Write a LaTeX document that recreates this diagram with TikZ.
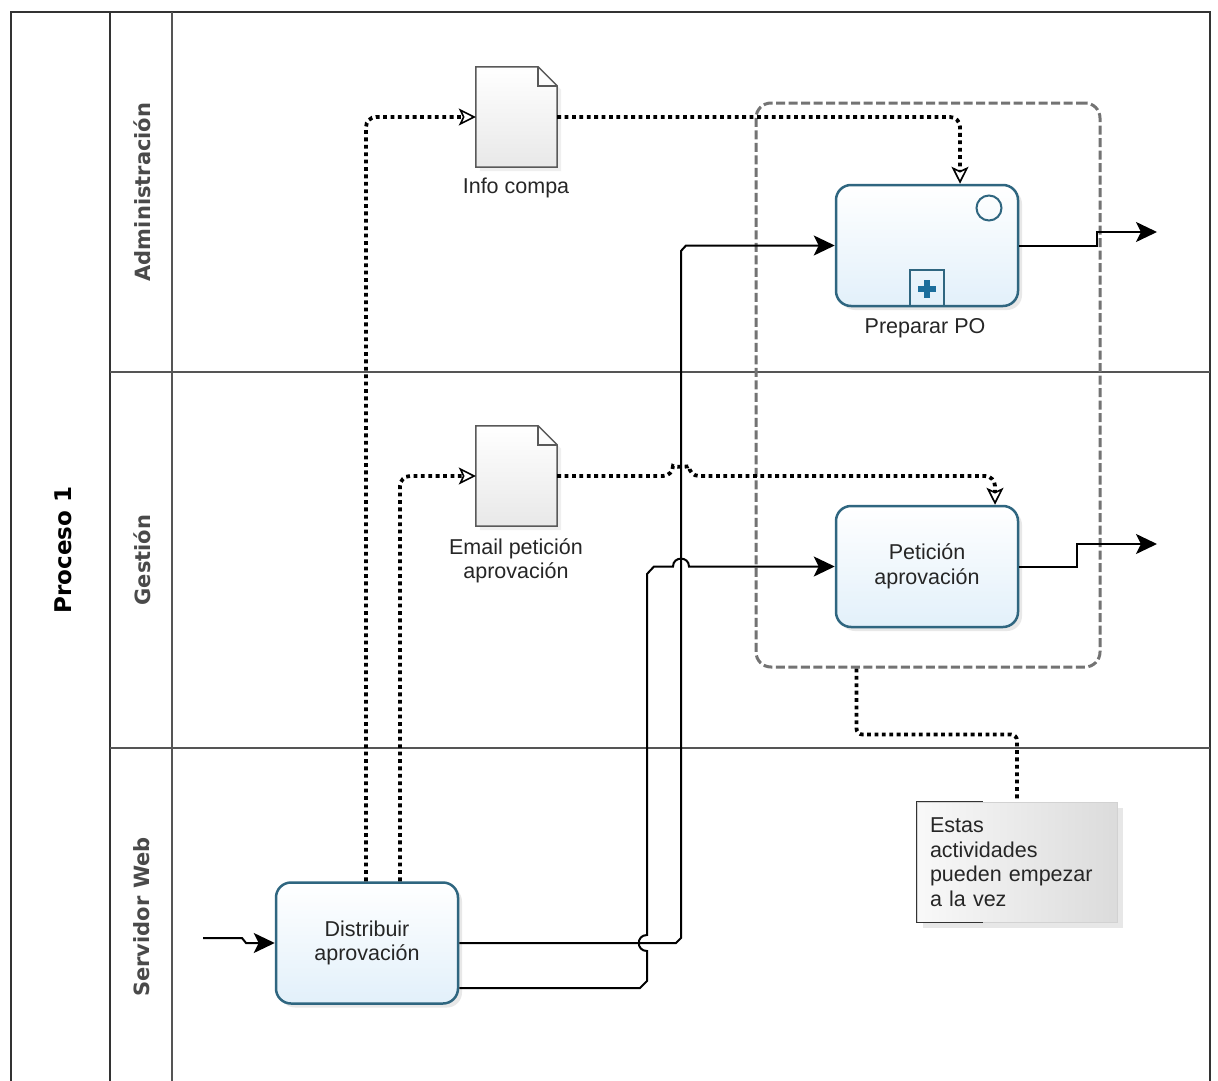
\documentclass[tikz,border=0pt]{standalone}
\usepackage{fontspec}
\setmainfont{Liberation Sans}
\newfontfamily\lanefont{DejaVu Sans}
\usetikzlibrary{arrows.meta,shadows,calc}
\definecolor{taskborder}{HTML}{2F6680}
\definecolor{taskfill}{HTML}{E2F0FA}
\definecolor{poolline}{HTML}{333333}
\definecolor{laneline}{HTML}{555555}
\definecolor{lanetext}{HTML}{4A4A4A}
\definecolor{txtcol}{HTML}{262626}
\definecolor{pluscol}{HTML}{1C6E9C}
\newcommand{\txtfont}{\fontsize{21.5}{24.5}\selectfont}
\tikzset{
  poolborder/.style={draw=poolline, line width=2.2pt},
  laneborder/.style={draw=laneline, line width=1.5pt},
  lanelabel/.style={font=\lanefont\bfseries\fontsize{21}{21}\selectfont, text=lanetext, rotate=90, inner sep=0pt},
  poollabel/.style={font=\lanefont\bfseries\fontsize{23}{23}\selectfont, text=black, rotate=90, inner sep=0pt},
  task/.style={draw=taskborder, line width=2.5pt, rounded corners=15pt, minimum width=182pt, minimum height=121pt,
    top color=white, bottom color=taskfill, align=center, font=\txtfont, text=txtcol,
    drop shadow={shadow xshift=4pt, shadow yshift=-4pt, opacity=0.25, fill=gray!70}},
  docbox/.style={draw=none, minimum width=81pt, minimum height=100pt, inner sep=0pt},
  docline/.style={draw=gray!70!black, line width=1.5pt},
  txt/.style={font=\txtfont, text=txtcol, align=center, inner sep=0pt},
  seq/.style={draw=black, line width=2pt, -{Stealth[length=21pt, width=20pt, inset=5pt]}},
  dotline/.style={draw=black, line width=3.8pt, dash pattern=on 3.8pt off 3.6pt},
  datatip/.style={-{Stealth[open, length=17pt, width=17pt, inset=4pt, line width=1.6pt]}},
  groupbox/.style={draw=black!55, line width=3pt, dash pattern=on 9pt off 3.5pt, rounded corners=15pt,
    minimum width=344pt, minimum height=564pt},
  notebox/.style={draw=gray!35, line width=1pt, left color=gray!5, right color=gray!28,
    minimum width=200pt, minimum height=120pt, text width=174pt, inner xsep=13pt, align=left,
    font=\txtfont, text=txtcol,
    drop shadow={shadow xshift=6pt, shadow yshift=-6pt, opacity=0.3, fill=gray!60}},
}
\begin{document}
\begin{tikzpicture}[x=1pt, y=-1pt]
\useasboundingbox (0,0) rectangle (1218,1081);
\fill[white] (0,0) rectangle (1218,1081);

% pool and lanes
\draw[poolborder] (11,1081) -- (11,12) -- (1210,12) -- (1210,1081);
\draw[poolborder] (110,12) -- (110,1081);
\draw[laneborder] (172,12) -- (172,1081);
\draw[laneborder] (110,372) -- (1210,372);
\draw[laneborder] (110,748) -- (1210,748);

\node[poollabel] (pool) at (63,550) {Proceso 1};
\node[lanelabel] (ladmin) at (142,192) {Administración};
\node[lanelabel] (lgest) at (142,560) {Gestión};
\node[lanelabel] (lserv) at (142,917) {Servidor Web};

% group
\node[groupbox] (grp) at (928,385) {};

% tasks
\node[task] (dist) at (367,943) {Distribuir\\aprovación};
\node[task] (prep) at (927,245.5) {};
\node[task] (pet) at (927,566.5) {Petición\\aprovación};
\node[txt] (prepl) at (925,328) {Preparar PO};
\node[circle, draw=taskborder, line width=2pt, minimum size=25pt, inner sep=0pt] (ev) at (989,208) {};
\node[draw=taskborder, line width=2pt, minimum width=34pt, minimum height=36pt, inner sep=0pt] (mk) at (927,288) {};
\draw[pluscol, line width=6pt] ($(mk.center)+(-9,1)$) -- ($(mk.center)+(9,1)$);
\draw[pluscol, line width=6pt] ($(mk.center)+(0,-8)$) -- ($(mk.center)+(0,10)$);

% data objects
\node[docbox] (info) at (516.5,117) {};
\node[docbox] (email) at (516.5,476) {};
\foreach \d in {info,email}{
  \draw[docline, top color=white, bottom color=gray!18, drop shadow={shadow xshift=4pt, shadow yshift=-4pt, opacity=0.2, fill=gray!60}]
    (\d.south west) -- (\d.north west) -- ($(\d.north east)+(-19,0)$) -- ($(\d.north east)+(0,19)$) -- (\d.south east) -- cycle;
  \draw[docline] ($(\d.north east)+(-19,0)$) -- ($(\d.north east)+(-19,19)$) -- ($(\d.north east)+(0,19)$);
}
\node[txt] (infol) at (516,188) {Info compa};
\node[txt] (emaill) at (516,561) {Email petición\\aprovación};

% text annotation
\node[notebox] (note) at (1017,862) {Estas\\actividades\\pueden empezar\\a la vez};
\draw[draw=poolline, line width=1.5pt] ($(note.north west)+(66,0)$) -- (note.north west) -- (note.south west) -- ($(note.south west)+(66,0)$);

% sequence flows
\coordinate (start) at (203,938);
\draw[seq] (start) -- (242,938) -- (246,943) -- (dist.west);
\draw[seq] (dist.east) -- (676,943) -- (681,938) -- (681,251) -- (686,245.5) -- (prep.west);
\draw[seq] ($(dist.east)+(0,45)$) -- (640,988) -- (647,981) -- (647,951)
   .. controls (636,951) and (636,935) .. (647,935) -- (647,574) -- (654,566.5) -- (673,566.5)
   .. controls (673,556) and (689,556) .. (689,566.5) -- (pet.west);
\coordinate (out1) at (1157,232);
\draw[seq] (prep.east) -- (1097,245.5) -- (1097,232) -- (out1);
\coordinate (out2) at (1157,544);
\draw[seq] (pet.east) -- (1077,566.5) -- (1077,544) -- (out2);

% data associations
\draw[dotline, datatip, rounded corners=10pt] ($(dist.north)+(-1,0)$) |- (info.west);
\draw[dotline, datatip, rounded corners=10pt] ($(dist.north)+(33,0)$) |- (email.west);
\draw[dotline, datatip, rounded corners=10pt] (info.east) -| ($(prep.north)+(33,0)$);
\draw[dotline, datatip, rounded corners=10pt] (email.east) -- (673,476)
   .. controls (673,467) and (689,467) .. (689,476) -| ($(pet.north)+(68,0)$);

% association to annotation
\draw[dotline, rounded corners=6pt] ($(grp.south west)+(102,0)$) -- ++(0,66) -| (note.north);
\end{tikzpicture}
\end{document}
